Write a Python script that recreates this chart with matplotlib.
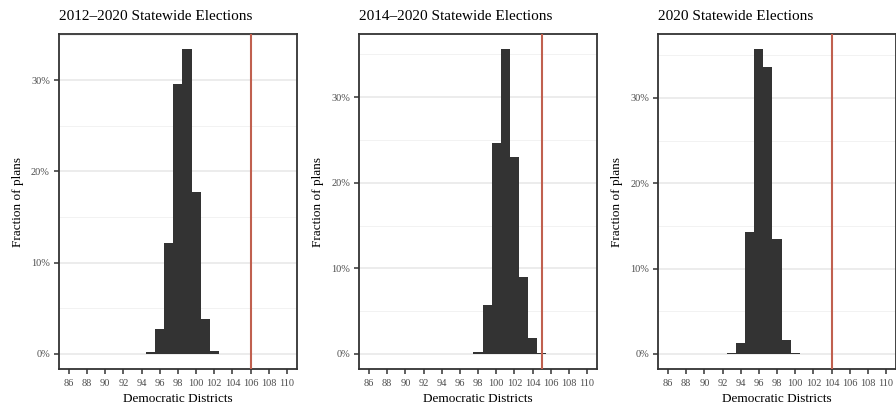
import matplotlib
matplotlib.use("Agg")
import matplotlib.pyplot as plt
from matplotlib.ticker import FuncFormatter, MultipleLocator

plt.rcParams['font.family'] = ['Liberation Serif', 'DejaVu Serif']

# share of simulated plans (%) by number of Democratic districts
dist_a = [95, 96, 97, 98, 99, 100, 101, 102, 103]
frac_a = [0.18, 2.77, 12.2, 29.6, 33.4, 17.7, 3.87, 0.36, 0.03]

dist_b = [98, 99, 100, 101, 102, 103, 104, 105, 106]
frac_b = [0.19, 5.67, 24.6, 35.6, 23.0, 8.93, 1.9, 0.15, 0.03]

dist_c = [93, 94, 95, 96, 97, 98, 99, 100, 101]
frac_c = [0.05, 1.24, 14.3, 35.7, 33.6, 13.5, 1.67, 0.05, 0.03]

enacted = [106, 105, 104]
titles = ["2012\u20132020 Statewide Elections",
          "2014\u20132020 Statewide Elections",
          "2020 Statewide Elections"]
xticks = list(range(86, 111, 2))

fig = plt.figure(figsize=(8.96, 4.04), dpi=100)
lefts = [0.0658, 0.4007, 0.7344]
w, b, h = 0.2656, 0.0866, 0.829

panels = [(dist_a, frac_a), (dist_b, frac_b), (dist_c, frac_c)]
for i, (xs, ys) in enumerate(panels):
    ax = fig.add_axes([lefts[i], b, w, h])
    ax.bar(xs, ys, width=1.0, color="#333333", linewidth=0, zorder=3)
    ax.axvline(enacted[i], color="#C0604F", lw=1.5, zorder=4)

    top = max(ys)
    pad = top * 0.05
    ax.set_ylim(-pad, top + pad)
    ax.set_xlim(84.9, 111.1)

    ax.yaxis.set_major_locator(MultipleLocator(10))
    ax.yaxis.set_minor_locator(MultipleLocator(5))
    ax.yaxis.set_major_formatter(FuncFormatter(lambda v, p: f"{v:.0f}%"))
    ax.grid(axis="y", which="major", color="#EBEBEB", lw=1.3, zorder=0)
    ax.grid(axis="y", which="minor", color="#F2F2F2", lw=0.7, zorder=0)
    ax.set_xticks(xticks)
    ax.tick_params(axis="both", which="major", colors="#333333",
                   labelcolor="#4D4D4D", labelsize=7.5, length=3.5, width=1.1)
    ax.tick_params(axis="y", which="minor", length=0)
    ax.tick_params(axis="x", pad=3.5)
    ax.tick_params(axis="y", pad=3)

    for s in ax.spines.values():
        s.set_color("#333333")
        s.set_linewidth(1.3)

    ax.set_xlabel("Democratic Districts", fontsize=9.5, labelpad=4)
    ax.set_ylabel("Fraction of plans", fontsize=9.5, labelpad=5)
    ax.set_title(titles[i], fontsize=11, loc="left", pad=10.5)

fig.savefig("out.png", dpi=100)
